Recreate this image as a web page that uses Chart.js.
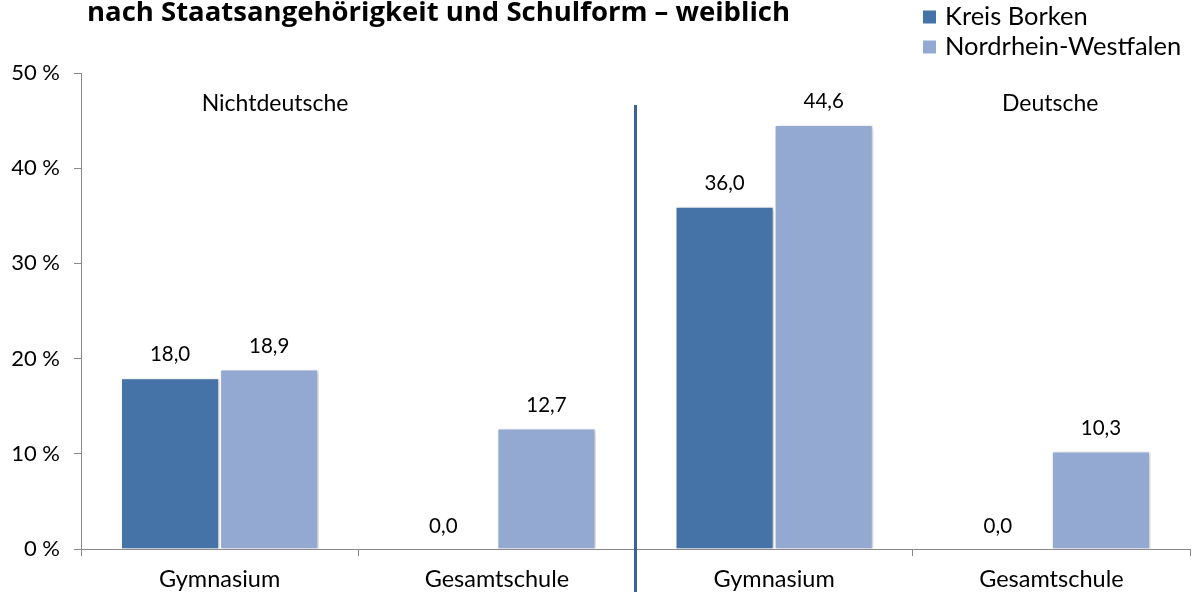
<!DOCTYPE html>
<html>
<head>
<meta charset="utf-8">
<script src="https://cdn.jsdelivr.net/npm/chart.js@4/dist/chart.umd.min.js"></script>
<style>
  html, body { margin: 0; padding: 0; background: #fff; }
  #wrap { width: 1192px; height: 595px; }
</style>
</head>
<body>
<div id="wrap"><canvas id="chart" width="1192" height="595"></canvas></div>
<script>
// Daten
const categories = ['Gymnasium', 'Gesamtschule', 'Gymnasium', 'Gesamtschule'];
const seriesNames = ['Kreis Borken', 'Nordrhein-Westfalen'];
const kreisBorken = [18.0, 0.0, 36.0, 0.0];
const nordrheinWestfalen = [18.9, 12.7, 44.6, 10.3];
const yTicks = [0, 10, 20, 30, 40, 50];
const groupLabels = ['Nichtdeutsche', 'Deutsche'];
const titleText = 'nach Staatsangehörigkeit und Schulform – weiblich';

const FONT = 'Lato, "Open Sans", sans-serif';
const colors = ['#4572A7', '#94A9D1'];

// Titel, Legende, Trennlinie, Werte
const extras = {
    id: 'extras',
    beforeDatasetsDraw(chart) {
        const ctx = chart.ctx;
        ctx.save();
        ctx.shadowColor = 'rgba(0,0,0,0.22)';
        ctx.shadowBlur = 4;
        ctx.shadowOffsetX = 2;
        ctx.shadowOffsetY = 1;
    },
    afterDatasetsDraw(chart) {
        const ctx = chart.ctx;
        ctx.restore();
        const x = chart.scales.x;
        const area = chart.chartArea;

        // Werte über den Balken
        ctx.save();
        ctx.font = '20.5px ' + FONT;
        ctx.fillStyle = '#000';
        ctx.textAlign = 'center';
        ctx.textBaseline = 'middle';
        chart.data.datasets.forEach((ds, i) => {
            chart.getDatasetMeta(i).data.forEach((bar, j) => {
                ctx.fillText(ds.data[j].toFixed(1).replace('.', ','), bar.x - (ds.data[j] === 0 ? 4 : 0), bar.y - 23);
            });
        });
        ctx.restore();

        // Trennlinie zwischen Nichtdeutsche / Deutsche
        const sepX = x.getPixelForValue(1.5);
        ctx.save();
        ctx.strokeStyle = '#3A6499';
        ctx.lineWidth = 3;
        ctx.beginPath();
        ctx.moveTo(sepX, 105);
        ctx.lineTo(sepX, 592);
        ctx.stroke();
        ctx.restore();

        // Gruppenbeschriftung
        ctx.save();
        ctx.font = '23px ' + FONT;
        ctx.fillStyle = '#000';
        ctx.textAlign = 'center';
        ctx.textBaseline = 'middle';
        const w = area.right - area.left;
        ctx.fillText(groupLabels[0], area.left + w * 0.175, 104);
        ctx.fillText(groupLabels[1], area.left + w * 0.874, 104);
        ctx.restore();
    },
    afterDraw(chart) {
        const ctx = chart.ctx;
        ctx.save();
        // Titel (zweite Zeile, oben abgeschnitten)
        ctx.font = 'bold 27.5px "Open Sans", Lato, sans-serif';
        ctx.fillStyle = '#000';
        ctx.textAlign = 'left';
        ctx.textBaseline = 'alphabetic';
        ctx.fillText(titleText, 87, 21);

        // Legende
        ctx.font = '25.5px ' + FONT;
        ctx.textBaseline = 'middle';
        const rows = [17, 47];
        chart.data.datasets.forEach((ds, i) => {
            ctx.fillStyle = ds.backgroundColor;
            ctx.fillRect(923, rows[i] - 6.5, 13, 13);
            ctx.fillStyle = '#000';
            ctx.fillText(ds.label, 945, rows[i]);
        });
        ctx.restore();
    }
};

new Chart(document.getElementById('chart'), {
    type: 'bar',
    data: {
        labels: categories,
        datasets: [
            {
                label: seriesNames[0],
                data: kreisBorken,
                backgroundColor: colors[0],
                borderColor: '#fff',
                borderWidth: 1.5
            },
            {
                label: seriesNames[1],
                data: nordrheinWestfalen,
                backgroundColor: colors[1],
                borderColor: '#fff',
                borderWidth: 1.5
            }
        ]
    },
    options: {
        responsive: false,
        animation: false,
        devicePixelRatio: 1,
        layout: { padding: { top: 73, right: 2, left: 0, bottom: 0 } },
        datasets: {
            bar: { categoryPercentage: 0.715, barPercentage: 1.0 }
        },
        plugins: {
            legend: { display: false },
            tooltip: { enabled: false },
            title: { display: false }
        },
        scales: {
            x: {
                afterFit(s) { s.height = 46; },
                grid: {
                    drawOnChartArea: false,
                    offset: true,
                    tickLength: 7,
                    color: '#898989'
                },
                border: { color: '#898989', width: 1 },
                ticks: {
                    color: '#000',
                    padding: 9,
                    font: { family: FONT, size: 23.5 }
                }
            },
            y: {
                min: 0,
                max: 50,
                afterFit(s) { s.width = 81; },
                afterBuildTicks(s) { s.ticks = yTicks.map(v => ({ value: v })); },
                grid: {
                    drawOnChartArea: false,
                    tickLength: 7,
                    color: '#898989'
                },
                border: { color: '#898989', width: 1 },
                ticks: {
                    color: '#000',
                    padding: 14,
                    font: { family: FONT, size: 22 },
                    callback: v => v + ' %'
                }
            }
        }
    },
    plugins: [extras]
});
</script>
</body>
</html>
